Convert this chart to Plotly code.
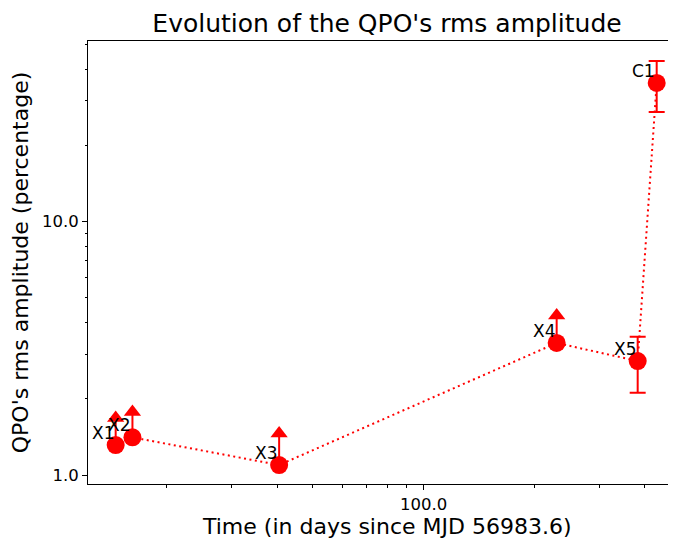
import numpy as np
import plotly.graph_objects as go

# observations (days since MJD 56983.6, rms amplitude in %)
names = ["X1", "X2", "X3", "X4", "X5", "C1"]
days = [14.54, 16.15, 40.47, 230.1, 382.2, 430.5]
rms = [1.313, 1.408, 1.095, 3.32, 2.817, 35.28]

# lower limits (arrows pointing up) -> value at arrow head
lim_days = [14.54, 16.15, 40.47, 230.1]
lim_rms = [1.313, 1.408, 1.095, 3.32]
lim_top = [1.678, 1.772, 1.457, 4.266]

# measured points with error bars
err_days = [382.2, 430.5]
err_rms = [2.817, 35.28]
err_hi = [3.513, 43.08]
err_lo = [2.112, 27.11]

x_ticks = [100]
x_ticktext = ["100.0"]
x_minor = [20, 30, 40, 50, 60, 70, 80, 90, 200, 300, 400]
y_ticks = [1, 10]
y_ticktext = ["1.0", "10.0"]
y_minor = [2, 3, 4, 5, 6, 7, 8, 9, 20, 30, 40, 50]

FONT = "DejaVu Sans"
RED = "#ff0000"

# page body has an 8px margin, so the figure is drawn 8px smaller
W, H = 668, 538

fig = go.Figure()

# dotted connecting line
fig.add_trace(go.Scatter(
    x=days, y=rms, mode="lines",
    line=dict(color=RED, width=2, dash="2px,3.5px"),
    showlegend=False, hoverinfo="skip",
))

# lower limits: stem + circle
fig.add_trace(go.Scatter(
    x=lim_days, y=lim_rms, mode="markers",
    marker=dict(color=RED, size=18),
    error_y=dict(type="data", symmetric=False,
                 array=[t - v for t, v in zip(lim_top, lim_rms)],
                 arrayminus=[0] * len(lim_rms),
                 color=RED, thickness=2, width=0),
    showlegend=False,
))
# arrow heads
fig.add_trace(go.Scatter(
    x=lim_days, y=lim_top, mode="markers",
    marker=dict(color=RED, size=15, symbol="triangle-up"),
    showlegend=False,
))

# measured points with error bars
fig.add_trace(go.Scatter(
    x=err_days, y=err_rms, mode="markers",
    marker=dict(color=RED, size=18),
    error_y=dict(type="data", symmetric=False,
                 array=[h - v for h, v in zip(err_hi, err_rms)],
                 arrayminus=[v - l for l, v in zip(err_lo, err_rms)],
                 color=RED, thickness=2, width=8),
    showlegend=False,
))

# point labels
for n, xv, yv in zip(names, days, rms):
    fig.add_annotation(
        x=np.log10(xv), y=np.log10(yv), text=n, showarrow=False,
        xanchor="right", yanchor="bottom",
        font=dict(family=FONT, size=17, color="black"),
    )

# x axis label
fig.add_annotation(
    x=0.5085, y=-0.097, xref="paper", yref="paper",
    text="Time (in days since MJD 56983.6)", showarrow=False,
    xanchor="center", yanchor="middle",
    font=dict(family=FONT, size=22, color="black"),
)

axis_common = dict(
    type="log", showgrid=False, zeroline=False, automargin=False,
    showline=True, linecolor="black", linewidth=1,
    ticks="outside", ticklen=5, tickwidth=1, tickcolor="black",
    tickfont=dict(family=FONT, size=16.5, color="black"),
)

fig.update_xaxes(
    **axis_common, mirror=True,
    range=[1.0873, 2.6865],
    tickmode="array", tickvals=x_ticks, ticktext=x_ticktext,
    minor=dict(tickmode="array", tickvals=x_minor, ticks="outside",
               ticklen=2.5, tickwidth=1, tickcolor="black"),
)
fig.update_yaxes(
    **axis_common,
    range=[-0.0355, 1.713],
    tickmode="array", tickvals=y_ticks, ticktext=y_ticktext,
    minor=dict(tickmode="array", tickvals=y_minor, ticks="outside",
               ticklen=2.5, tickwidth=1, tickcolor="black"),
    title=dict(text="QPO's rms amplitude (percentage)", standoff=8,
               font=dict(family=FONT, size=22, color="black")),
)

fig.update_layout(
    width=W, height=H, autosize=False,
    margin=dict(l=80, r=0, t=33, b=62),
    paper_bgcolor="white", plot_bgcolor="white",
    title=dict(text="Evolution of the QPO's rms amplitude",
               x=379 / W, xanchor="center", xref="container",
               y=1 - 15 / H, yanchor="middle", yref="container",
               font=dict(family=FONT, size=25, color="black")),
    font=dict(family=FONT),
)

fig.write_html("out.html")
